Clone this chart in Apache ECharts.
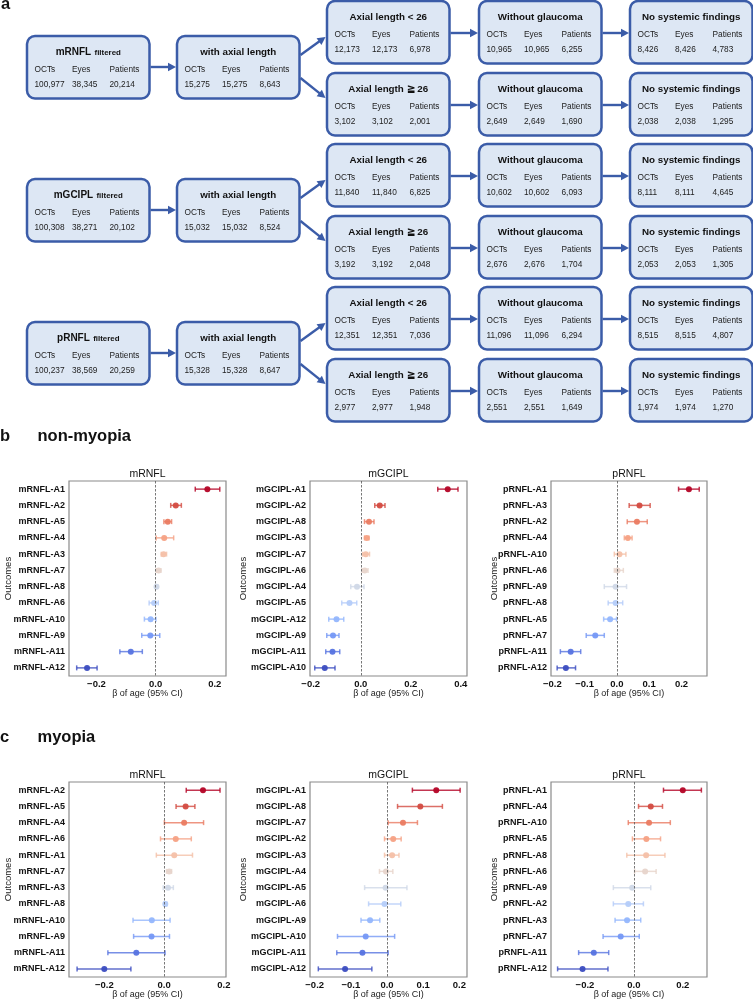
<!DOCTYPE html>
<html><head><meta charset="utf-8">
<script src="https://cdn.jsdelivr.net/npm/echarts@6/dist/echarts.min.js"></script>
<style>html,body{margin:0;padding:0;background:#fff}#chart{width:753px;height:1000px}</style>
</head><body><div id="chart"></div>
<script>
// ---------------- Flowchart data ----------------
const groupNames = ['mRNFL', 'mGCIPL', 'pRNFL'];
const countHeaders = ['OCTs', 'Eyes', 'Patients'];
const stageTitles = ['with axial length', 'Axial length < 26', 'Axial length \u2267 26', 'Without glaucoma', 'No systemic findings'];
const filteredCounts = [[100977, 38345, 20214], [100308, 38271, 20102], [100237, 38569, 20259]];
const withAxialCounts = [[15275, 15275, 8643], [15032, 15032, 8524], [15328, 15328, 8647]];
const axialLowCounts = [[12173, 12173, 6978], [11840, 11840, 6825], [12351, 12351, 7036]];
const axialHighCounts = [[3102, 3102, 2001], [3192, 3192, 2048], [2977, 2977, 1948]];
const glaucomaLowCounts = [[10965, 10965, 6255], [10602, 10602, 6093], [11096, 11096, 6294]];
const glaucomaHighCounts = [[2649, 2649, 1690], [2676, 2676, 1704], [2551, 2551, 1649]];
const systemicLowCounts = [[8426, 8426, 4783], [8111, 8111, 4645], [8515, 8515, 4807]];
const systemicHighCounts = [[2038, 2038, 1295], [2053, 2053, 1305], [1974, 1974, 1270]];

// ---------------- Forest plot data: non-myopia ----------------
const nmRNFLLabels = ['mRNFL-A1','mRNFL-A2','mRNFL-A5','mRNFL-A4','mRNFL-A3','mRNFL-A7','mRNFL-A8','mRNFL-A6','mRNFL-A10','mRNFL-A9','mRNFL-A11','mRNFL-A12'];
const nmRNFLBeta = [0.175,0.068,0.041,0.029,0.027,0.010,0.003,-0.005,-0.017,-0.018,-0.084,-0.232];
const nmRNFLLo   = [0.134,0.051,0.028,0.002,0.019,0.002,0.000,-0.022,-0.038,-0.047,-0.121,-0.267];
const nmRNFLHi   = [0.217,0.087,0.054,0.061,0.037,0.018,0.007,0.009,0.001,0.014,-0.045,-0.198];

const nmGCIPLLabels = ['mGCIPL-A1','mGCIPL-A2','mGCIPL-A8','mGCIPL-A3','mGCIPL-A7','mGCIPL-A6','mGCIPL-A4','mGCIPL-A5','mGCIPL-A12','mGCIPL-A9','mGCIPL-A11','mGCIPL-A10'];
const nmGCIPLBeta = [0.348,0.076,0.033,0.024,0.020,0.016,-0.015,-0.045,-0.097,-0.111,-0.113,-0.144];
const nmGCIPLLo   = [0.308,0.056,0.015,0.015,0.008,0.005,-0.040,-0.076,-0.128,-0.136,-0.140,-0.184];
const nmGCIPLHi   = [0.389,0.097,0.053,0.033,0.035,0.029,0.013,-0.016,-0.068,-0.087,-0.084,-0.103];

const npRNFLLabels = ['pRNFL-A1','pRNFL-A3','pRNFL-A2','pRNFL-A4','pRNFL-A10','pRNFL-A6','pRNFL-A9','pRNFL-A8','pRNFL-A5','pRNFL-A7','pRNFL-A11','pRNFL-A12'];
const npRNFLBeta = [0.223,0.070,0.062,0.034,0.008,0.002,-0.004,-0.004,-0.021,-0.067,-0.143,-0.158];
const npRNFLLo   = [0.191,0.038,0.032,0.023,-0.008,-0.008,-0.039,-0.027,-0.041,-0.095,-0.175,-0.185];
const npRNFLHi   = [0.255,0.103,0.094,0.047,0.028,0.020,0.030,0.018,-0.001,-0.039,-0.112,-0.128];

// ---------------- Forest plot data: myopia ----------------
const mmRNFLLabels = ['mRNFL-A2','mRNFL-A5','mRNFL-A4','mRNFL-A6','mRNFL-A1','mRNFL-A7','mRNFL-A3','mRNFL-A8','mRNFL-A10','mRNFL-A9','mRNFL-A11','mRNFL-A12'];
const mmRNFLBeta = [0.130,0.072,0.067,0.039,0.034,0.017,0.013,0.004,-0.041,-0.042,-0.093,-0.200];
const mmRNFLLo   = [0.074,0.040,0.001,-0.012,-0.026,0.008,-0.003,0.000,-0.104,-0.102,-0.188,-0.291];
const mmRNFLHi   = [0.187,0.103,0.132,0.091,0.095,0.025,0.031,0.009,0.020,0.018,0.003,-0.111];

const mmGCIPLLabels = ['mGCIPL-A1','mGCIPL-A8','mGCIPL-A7','mGCIPL-A2','mGCIPL-A3','mGCIPL-A4','mGCIPL-A5','mGCIPL-A6','mGCIPL-A9','mGCIPL-A10','mGCIPL-A11','mGCIPL-A12'];
const mmGCIPLBeta = [0.136,0.092,0.044,0.017,0.014,-0.003,-0.004,-0.007,-0.047,-0.059,-0.068,-0.116];
const mmGCIPLLo   = [0.070,0.029,0.003,-0.007,-0.007,-0.021,-0.062,-0.051,-0.072,-0.137,-0.139,-0.190];
const mmGCIPLHi   = [0.202,0.153,0.084,0.039,0.033,0.016,0.055,0.038,-0.020,0.021,0.003,-0.042];

const mpRNFLLabels = ['pRNFL-A1','pRNFL-A4','pRNFL-A10','pRNFL-A5','pRNFL-A8','pRNFL-A6','pRNFL-A9','pRNFL-A2','pRNFL-A3','pRNFL-A7','pRNFL-A11','pRNFL-A12'];
const mpRNFLBeta = [0.200,0.069,0.062,0.051,0.050,0.046,-0.007,-0.023,-0.028,-0.054,-0.164,-0.210];
const mpRNFLLo   = [0.121,0.019,-0.023,-0.006,-0.029,0.003,-0.084,-0.084,-0.077,-0.126,-0.226,-0.312];
const mpRNFLHi   = [0.276,0.117,0.149,0.109,0.127,0.091,0.069,0.039,0.028,0.022,-0.103,-0.106];

// tick label values per panel
const ticksNmRNFL = [-0.2, 0, 0.2];
const ticksNmGCIPL = [-0.2, 0, 0.2, 0.4];
const ticksNpRNFL = [-0.2, -0.1, 0, 0.1, 0.2];
const ticksMmRNFL = [-0.2, 0, 0.2];
const ticksMmGCIPL = [-0.2, -0.1, 0, 0.1, 0.2];
const ticksMpRNFL = [-0.2, 0, 0.2];

// ---------------- Layout / style ----------------
const FONT = '"Liberation Sans", Arial, Helvetica, sans-serif';
const COOLWARM = ['#3b4cc0','#5977e3','#7b9ff9','#9ebeff','#c0d4f5','#dddcdc','#f2cbb7','#f7ac8e','#ee8468','#d65244','#b40426'];
function hex2rgb(h){return [parseInt(h.slice(1,3),16),parseInt(h.slice(3,5),16),parseInt(h.slice(5,7),16)];}
function coolwarm(t){
  const p = t * (COOLWARM.length - 1); const i = Math.min(Math.floor(p), COOLWARM.length - 2); const f = p - i;
  const a = hex2rgb(COOLWARM[i]), b = hex2rgb(COOLWARM[i + 1]);
  return 'rgb(' + a.map((v, k) => Math.round(v + (b[k] - v) * f)).join(',') + ')';
}
function rankColors(n){ const out=[]; for(let i=0;i<n;i++) out.push(coolwarm(1 - i/(n-1))); return out; }

const panels = [
  {title:'mRNFL', labels:nmRNFLLabels, beta:nmRNFLBeta, lo:nmRNFLLo, hi:nmRNFLHi, ticks:ticksNmRNFL, min:-0.293, max:0.238, row:0, col:0},
  {title:'mGCIPL', labels:nmGCIPLLabels, beta:nmGCIPLBeta, lo:nmGCIPLLo, hi:nmGCIPLHi, ticks:ticksNmGCIPL, min:-0.203, max:0.425, row:0, col:1},
  {title:'pRNFL', labels:npRNFLLabels, beta:npRNFLBeta, lo:npRNFLLo, hi:npRNFLHi, ticks:ticksNpRNFL, min:-0.204, max:0.279, row:0, col:2},
  {title:'mRNFL', labels:mmRNFLLabels, beta:mmRNFLBeta, lo:mmRNFLLo, hi:mmRNFLHi, ticks:ticksMmRNFL, min:-0.318, max:0.207, row:1, col:0},
  {title:'mGCIPL', labels:mmGCIPLLabels, beta:mmGCIPLBeta, lo:mmGCIPLLo, hi:mmGCIPLHi, ticks:ticksMmGCIPL, min:-0.213, max:0.221, row:1, col:1},
  {title:'pRNFL', labels:mpRNFLLabels, beta:mpRNFLBeta, lo:mpRNFLLo, hi:mpRNFLHi, ticks:ticksMpRNFL, min:-0.339, max:0.299, row:1, col:2}
];
const GRID_LEFT = [69, 310, 551], GRID_W = [157, 157, 156], GRID_TOP = [481, 782], GRID_H = 195;
const NAME_GAP = [56, 62, 52];

const grids = [], xAxes = [], yAxes = [], series = [], graphics = [];
const fmtTick = v => (v < 0 ? '\u2212' : '') + Math.abs(v).toFixed(1);

panels.forEach((p, k) => {
  const colors = rankColors(p.labels.length);
  grids.push({left: GRID_LEFT[p.col], top: GRID_TOP[p.row], width: GRID_W[p.col], height: GRID_H, show: true, borderColor: '#8a8a8a', borderWidth: 1.2, containLabel: false});
  xAxes.push({type: 'value', gridIndex: k, min: p.min, max: p.max, splitLine: {show: false}, axisLine: {show: false}, axisTick: {show: false},
    axisLabel: {customValues: p.ticks, formatter: fmtTick, fontSize: 9.5, fontWeight: 'bold', color: '#111', margin: 3, fontFamily: FONT},
    name: '\u03b2 of age (95% CI)', nameLocation: 'middle', nameGap: 13, nameMoveOverlap: false, nameTextStyle: {fontSize: 9, color: '#222', fontFamily: FONT}});
  yAxes.push({type: 'category', gridIndex: k, data: p.labels, inverse: true, axisLine: {show: false}, axisTick: {show: false}, splitLine: {show: false},
    axisLabel: {fontSize: 9, fontWeight: 'bold', color: '#111', margin: 4, fontFamily: FONT},
    name: 'Outcomes', nameLocation: 'middle', nameRotate: 90, nameGap: NAME_GAP[p.col], nameMoveOverlap: false, nameTextStyle: {fontSize: 9.5, color: '#222', fontFamily: FONT}});
  series.push({type: 'custom', xAxisIndex: k, yAxisIndex: k, encode: {x: [0, 1], y: 2},
    data: p.labels.map((l, i) => [p.lo[i], p.hi[i], i]),
    renderItem: (params, api) => {
      const a = api.coord([api.value(0), api.value(2)]), b = api.coord([api.value(1), api.value(2)]);
      const st = {stroke: colors[params.dataIndex], lineWidth: 1.5, opacity: 0.8};
      const c = 2.5;
      return {type: 'group', children: [
        {type: 'line', shape: {x1: a[0], y1: a[1], x2: b[0], y2: b[1]}, style: st},
        {type: 'line', shape: {x1: a[0], y1: a[1] - c, x2: a[0], y2: a[1] + c}, style: st},
        {type: 'line', shape: {x1: b[0], y1: b[1] - c, x2: b[0], y2: b[1] + c}, style: st}
      ]};
    }, z: 3});
  series.push({type: 'scatter', xAxisIndex: k, yAxisIndex: k, symbolSize: 6,
    data: p.labels.map((l, i) => [p.beta[i], i]),
    itemStyle: {color: params => colors[params.dataIndex], opacity: 0.95},
    markLine: {silent: true, symbol: ['none', 'none'], label: {show: false}, data: [{xAxis: 0}],
      lineStyle: {type: [2.5, 1.5], color: '#555', width: 0.8}, animation: false},
    z: 4});
  graphics.push({type: 'text', x: GRID_LEFT[p.col] + GRID_W[p.col] / 2, y: GRID_TOP[p.row] - 7,
    style: {text: p.title, fontSize: 10.5, fill: '#111', align: 'center', verticalAlign: 'middle', fontFamily: FONT}});
});

// Section headers
[['a', 1, 4.5], ['b', 0, 436.2], ['c', 0, 737.2]].forEach(h => graphics.push({type: 'text', x: h[1], y: h[2],
  style: {text: h[0], fontSize: 16.5, fontWeight: 'bold', fill: '#111', verticalAlign: 'middle', fontFamily: FONT}}));
[['non-myopia', 436.2], ['myopia', 737.2]].forEach(h => graphics.push({type: 'text', x: 37.5, y: h[1],
  style: {text: h[0], fontSize: 16.5, fontWeight: 'bold', fill: '#111', verticalAlign: 'middle', fontFamily: FONT}}));

// ---------------- Flowchart ----------------
const BOX_W = 122.5, BOX_H = 62.5, COL_X = [27, 177, 327, 479, 630], GROUP_STEP = 143;
const FILL = '#dde7f4', EDGE = '#3b5ca8';
const fmtN = n => n.toLocaleString('en-US');
function addBox(x, y, titleStyle, counts){
  graphics.push({type: 'rect', shape: {x: x, y: y, width: BOX_W, height: BOX_H, r: 8}, style: {fill: FILL, stroke: EDGE, lineWidth: 2.5}, z: 1});
  graphics.push({type: 'text', x: x + BOX_W / 2, y: y + 16.5, style: Object.assign({align: 'center', verticalAlign: 'middle', fill: '#111', fontFamily: FONT}, titleStyle), z: 2});
  countHeaders.forEach((h, i) => {
    graphics.push({type: 'text', x: x + 7.5 + i * 37.5, y: y + 33.5, style: {text: h, fontSize: 8.3, fill: '#222', verticalAlign: 'middle', fontFamily: FONT}, z: 2});
    graphics.push({type: 'text', x: x + 7.5 + i * 37.5, y: y + 48.7, style: {text: fmtN(counts[i]), fontSize: 8.3, fill: '#222', verticalAlign: 'middle', fontFamily: FONT}, z: 2});
  });
}
function addArrow(x1, y1, x2, y2){
  const dx = x2 - x1, dy = y2 - y1, L = Math.hypot(dx, dy), ux = dx / L, uy = dy / L, hl = 8, hw = 4.2;
  const bx = x2 - ux * hl, by = y2 - uy * hl;
  graphics.push({type: 'line', shape: {x1: x1, y1: y1, x2: bx + ux, y2: by + uy}, style: {stroke: EDGE, lineWidth: 2.4}, z: 1});
  graphics.push({type: 'polygon', shape: {points: [[x2, y2], [bx - uy * hw, by + ux * hw], [bx + uy * hw, by - ux * hw]]}, style: {fill: EDGE}, z: 1});
}
const bold = (t) => ({text: t, fontSize: 9.8, fontWeight: 'bold'});
groupNames.forEach((g, gi) => {
  const top0 = 36 + gi * GROUP_STEP, lowTop = 1 + gi * GROUP_STEP, highTop = 73 + gi * GROUP_STEP;
  addBox(COL_X[0], top0, {text: '{a|' + g + '} {b|filtered}', rich: {a: {fontSize: 10, fontWeight: 'bold', fontFamily: FONT}, b: {fontSize: 7.9, fontWeight: 'bold', fontFamily: FONT}}}, filteredCounts[gi]);
  addBox(COL_X[1], top0, bold(stageTitles[0]), withAxialCounts[gi]);
  addBox(COL_X[2], lowTop, bold(stageTitles[1]), axialLowCounts[gi]);
  addBox(COL_X[2], highTop, bold(stageTitles[2]), axialHighCounts[gi]);
  addBox(COL_X[3], lowTop, bold(stageTitles[3]), glaucomaLowCounts[gi]);
  addBox(COL_X[3], highTop, bold(stageTitles[3]), glaucomaHighCounts[gi]);
  addBox(COL_X[4], lowTop, bold(stageTitles[4]), systemicLowCounts[gi]);
  addBox(COL_X[4], highTop, bold(stageTitles[4]), systemicHighCounts[gi]);
  addArrow(COL_X[0] + BOX_W + 1, top0 + 31, COL_X[1] - 1, top0 + 31);
  addArrow(COL_X[1] + BOX_W + 1, top0 + 19, COL_X[2] - 1.5, lowTop + 36);
  addArrow(COL_X[1] + BOX_W + 1, top0 + 42, COL_X[2] - 1.5, highTop + 25);
  [lowTop, highTop].forEach(t => {
    addArrow(COL_X[2] + BOX_W + 1, t + 32, COL_X[3] - 1, t + 32);
    addArrow(COL_X[3] + BOX_W + 1, t + 32, COL_X[4] - 1, t + 32);
  });
});

const chart = echarts.init(document.getElementById('chart'), null, {renderer: 'canvas'});
chart.setOption({
  animation: false,
  backgroundColor: '#fff',
  textStyle: {fontFamily: FONT},
  grid: grids, xAxis: xAxes, yAxis: yAxes, series: series,
  graphic: {elements: graphics}
});
</script></body></html>
